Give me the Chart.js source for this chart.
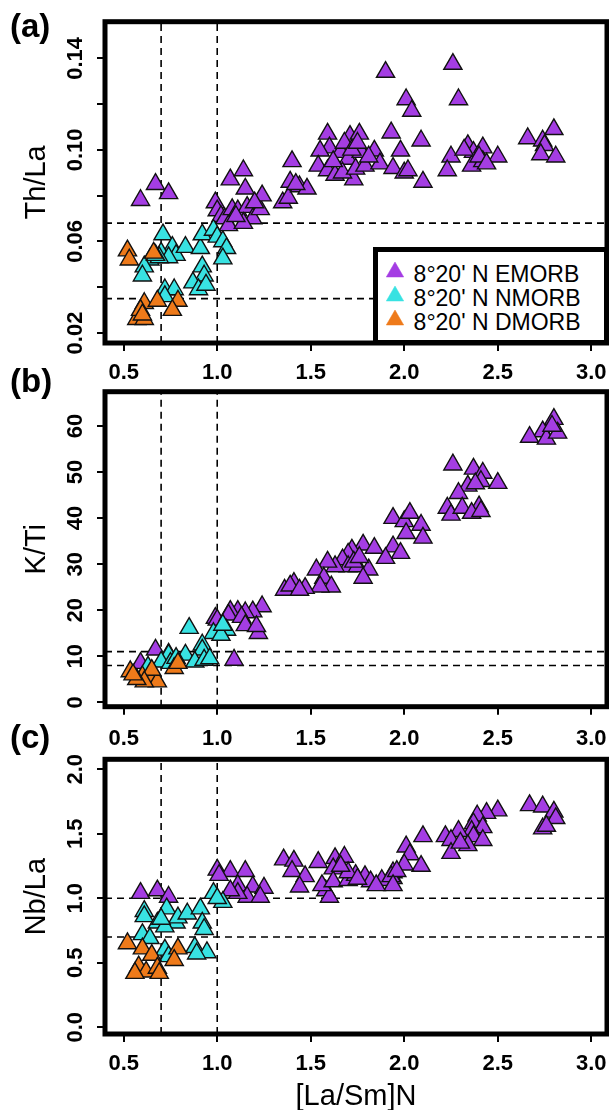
<!DOCTYPE html>
<html><head><meta charset="utf-8">
<script src="https://cdn.jsdelivr.net/npm/chart.js@4.4.1/dist/chart.umd.min.js"></script>
<style>
html,body{margin:0;padding:0;background:#fff;overflow:hidden;width:609px;height:1110px}
#wrap{position:relative;width:609px;height:1110px;overflow:hidden}
canvas{position:absolute;left:0}
.plab{position:absolute;font:bold 33px "Liberation Sans",Arial,sans-serif;line-height:1;color:#000;z-index:6}
#legend{position:absolute;left:373px;top:247px;width:236px;height:98px;box-sizing:border-box;border:5px solid #000;background:#fff;z-index:5;font:23px "Liberation Sans",Arial,sans-serif;color:#000}
#legend svg{position:absolute;left:7px}
#legend span{position:absolute;left:35.6px;line-height:24px;white-space:nowrap}
</style>
</head><body>
<div id="wrap">
  <canvas id="ca" width="609" height="400" style="top:0px"></canvas>
  <canvas id="cb" width="609" height="400" style="top:380px"></canvas>
  <canvas id="cc" width="609" height="380" style="top:745px"></canvas>
  <div class="plab" style="left:10px;top:9px">(a)</div>
  <div class="plab" style="left:10px;top:364px">(b)</div>
  <div class="plab" style="left:10px;top:720px">(c)</div>
  <div id="legend"></div>
</div>
<script>
// ---------- data ----------
const seriesNames = ["8°20' N EMORB", "8°20' N NMORB", "8°20' N DMORB"];
const seriesColors = ['#A43DE3', '#38E2E2', '#EE7A1A'];

const xTicks = [0.5, 1.0, 1.5, 2.0, 2.5, 3.0];
const xTickLabels = ['0.5', '1.0', '1.5', '2.0', '2.5', '3.0'];
const xTitle = '[La/Sm]N';
const refX = [0.7, 1.0];

// Panel (a): Th/La
const aYTicks = [0.02, 0.04, 0.06, 0.08, 0.10, 0.12, 0.14];
const aYTickLabels = ['0.02', '', '0.06', '', '0.10', '', '0.14'];
const aRefY = [0.035, 0.068];
const aEX = [0.59,0.67,0.74,0.99,1.00,1.02,1.04,1.06,1.07,1.08,1.11,1.14,1.15,1.16,1.19,1.14,1.23,1.24,1.10,1.20,1.35,1.38,1.39,1.40,1.44,1.48,1.42,1.59,1.71,1.76,1.60,1.55,1.66,1.70,1.77,1.84,1.93,1.54,1.59,1.63,1.73,1.67,1.74,1.79,1.87,1.94,1.90,1.68,1.72,1.62,1.81,1.75,2.26,2.29,2.01,2.04,2.09,1.98,2.00,2.10,2.02,2.25,2.23,2.34,2.37,2.42,2.36,2.42,2.50,2.32,2.40,2.44,2.66,2.74,2.80,2.75,2.73,2.81];
const aEY = [0.078,0.085,0.081,0.077,0.0735,0.071,0.070,0.067,0.087,0.074,0.0735,0.091,0.083,0.075,0.070,0.068,0.074,0.080,0.071,0.077,0.077,0.079,0.086,0.095,0.084,0.083,0.085,0.107,0.106,0.107,0.101,0.0996,0.099,0.096,0.099,0.0996,0.1075,0.093,0.091,0.089,0.087,0.090,0.0917,0.093,0.094,0.092,0.134,0.103,0.100,0.095,0.097,0.103,0.1375,0.122,0.122,0.117,0.104,0.0996,0.090,0.086,0.091,0.097,0.091,0.102,0.099,0.101,0.093,0.095,0.097,0.100,0.097,0.094,0.105,0.104,0.109,0.102,0.098,0.097];
const aNX = [0.71,0.76,0.70,0.78,0.74,0.64,0.61,0.60,0.83,0.91,0.92,0.98,1.00,1.03,1.05,1.03,0.92,0.93,0.87,0.90,0.94,0.72,0.77,0.72,0.69,0.67];
const aNY = [0.063,0.0575,0.055,0.054,0.053,0.052,0.049,0.045,0.0575,0.057,0.063,0.065,0.062,0.060,0.057,0.0525,0.049,0.045,0.042,0.039,0.041,0.039,0.039,0.036,0.053,0.054];
const aDX = [0.52,0.53,0.66,0.61,0.68,0.79,0.76,0.57,0.61,0.59,0.60];
const aDY = [0.056,0.052,0.055,0.033,0.034,0.034,0.030,0.026,0.026,0.030,0.028];

// Panel (b): K/Ti
const bYTicks = [0, 10, 20, 30, 40, 50, 60];
const bYTickLabels = ['0', '10', '20', '30', '40', '50', '60'];
const bRefY = [8, 11];
const bEX = [2.80,2.74,2.67,2.76,2.82,2.79,2.26,2.37,2.42,2.41,2.34,2.50,2.29,2.23,2.25,2.31,2.40,2.36,2.41,2.38,1.94,2.00,2.03,2.09,2.01,2.10,1.94,1.98,1.78,1.84,1.90,1.72,1.70,1.67,1.70,1.75,1.81,1.78,1.63,1.59,1.53,1.57,1.61,1.55,1.47,1.41,1.36,1.39,1.44,1.73,1.76,1.24,1.19,1.15,1.11,1.07,0.99,1.00,1.06,1.13,1.15,1.22,1.21,1.09,0.67,0.59,0.74];
const bEY = [61.5,58.8,57.6,57.2,58.5,60.0,51.6,50.7,49.8,48.0,47.0,47.6,45.4,42.2,40.7,42.2,42.5,41.1,41.5,47.5,40.0,39.3,41.1,38.5,36.7,35.7,33.8,32.4,34.2,33.5,31.3,33.1,32.2,31.0,29.5,29.5,28.8,27.0,29.5,30.5,28.8,27.0,25.1,25.1,24.8,25.9,24.4,25.3,24.4,30.5,31.5,20.8,19.7,19.5,19.8,19.8,18.3,17.9,19.0,18.5,16.7,15.0,16.5,9.2,11.4,8.5,10.5];
const bNX = [0.85,0.98,1.05,1.02,0.92,0.92,0.83,0.88,0.93,0.74,0.70,0.75,0.63,0.96,0.78,1.03];
const bNY = [16.1,15.0,15.7,14.6,12.5,11.4,10.3,8.8,9.2,10.3,8.8,8.5,7.7,9.5,9.6,16.8];
const bDX = [0.535,0.60,0.66,0.68,0.65,0.77,0.79,0.61,0.57,0.55];
const bDY = [6.7,5.6,5.6,4.5,7.0,7.4,8.5,4.5,5.0,6.0];

// Panel (c): Nb/La
const cYTicks = [0.0, 0.5, 1.0, 1.5, 2.0];
const cYTickLabels = ['0.0', '0.5', '1.0', '1.5', '2.0'];
const cRefY = [0.7, 1.0];
const cEX = [2.67,2.74,2.80,2.81,2.74,2.76,2.50,2.44,2.39,2.37,2.42,2.36,2.37,2.42,2.29,2.22,2.25,2.34,2.25,2.30,2.10,2.01,2.03,2.09,2.00,1.94,1.94,1.355,1.41,1.40,1.47,1.44,1.54,1.63,1.68,1.62,1.58,1.60,1.56,1.62,1.70,1.74,1.79,1.82,1.88,1.93,1.96,1.94,1.70,1.66,1.75,1.85,1.00,1.07,1.15,1.11,1.19,1.25,1.16,1.23,1.11,1.07,1.01,0.59,0.68,0.74];
const cEY = [1.72,1.71,1.67,1.62,1.54,1.56,1.68,1.66,1.64,1.58,1.55,1.52,1.48,1.45,1.52,1.48,1.45,1.41,1.35,1.43,1.48,1.40,1.34,1.25,1.26,1.155,1.20,1.30,1.29,1.21,1.17,1.09,1.28,1.31,1.32,1.23,1.06,1.01,1.10,1.13,1.14,1.18,1.17,1.13,1.14,1.17,1.21,1.10,1.20,1.25,1.15,1.10,1.22,1.21,1.21,1.10,1.09,1.08,1.01,1.01,1.04,1.06,1.18,1.04,1.06,1.01];
const cNX = [0.61,0.61,0.73,0.68,0.78,0.79,0.84,0.91,0.92,0.93,0.72,0.98,1.03,1.00,0.60,0.64,0.72,0.74,0.88,0.945,0.89,0.70];
const cNY = [0.90,0.86,0.92,0.81,0.81,0.85,0.88,0.92,0.81,0.76,0.78,1.04,0.97,1.00,0.72,0.69,0.60,0.55,0.62,0.58,0.57,0.84];
const cDX = [0.52,0.60,0.65,0.79,0.77,0.58,0.62,0.68,0.69,0.56];
const cDY = [0.65,0.61,0.56,0.61,0.52,0.47,0.43,0.46,0.42,0.42];

// ---------- layout / style ----------
const FONT = '"Liberation Sans", Arial, Helvetica, sans-serif';
const X_MIN = 0.4, X_MAX = 3.084;

const framePlugin = {
  id: 'frame',
  afterDraw(chart) {
    const {ctx, chartArea: a} = chart;
    ctx.save();
    ctx.strokeStyle = '#000';
    ctx.lineWidth = 5;
    ctx.strokeRect(a.left, a.top, a.right - a.left, a.bottom - a.top);
    ctx.restore();
  }
};

function pts(xs, ys) { return xs.map((x, i) => ({x: x, y: ys[i]})); }

function makePanel(id, p) {
  const groups = [[p.ex, p.ey], [p.nx, p.ny], [p.dx, p.dy]];
  const datasets = groups.map((g, i) => ({
    label: seriesNames[i],
    data: pts(g[0], g[1]),
    pointStyle: 'triangle',
    pointRadius: 10.5,
    pointHoverRadius: 10.5,
    pointBackgroundColor: seriesColors[i],
    pointBorderColor: '#111',
    pointBorderWidth: 1.4,
    showLine: false,
    order: 3 - i
  }));
  const dash = {borderColor: '#000', borderWidth: 1.6, borderDash: [7, 5], pointRadius: 0, showLine: true, fill: false, order: 10};
  refX.forEach(v => datasets.push(Object.assign({label: 'vx', data: [{x: v, y: p.ymin}, {x: v, y: p.ymax}]}, dash)));
  p.refY.forEach(v => datasets.push(Object.assign({label: 'hy', data: [{x: X_MIN, y: v}, {x: X_MAX, y: v}]}, dash)));

  return new Chart(document.getElementById(id), {
    type: 'scatter',
    data: {datasets: datasets},
    plugins: [framePlugin],
    options: {
      responsive: false,
      animation: false,
      devicePixelRatio: 1,
      events: [],
      layout: {autoPadding: false, padding: {left: 0, right: 2, top: p.padTop, bottom: 0}},
      plugins: {legend: {display: false}, tooltip: {enabled: false}, title: {display: false}},
      scales: {
        x: {
          type: 'linear', min: X_MIN, max: X_MAX,
          afterBuildTicks: s => { s.ticks = xTicks.map(v => ({value: v})); },
          afterFit: s => { s.height = p.xH; s.paddingLeft = 0; s.paddingRight = 0; },
          grid: {display: true, drawOnChartArea: false, drawTicks: true, tickLength: 8, color: '#000', lineWidth: 2},
          border: {display: false},
          ticks: {
            autoSkip: false, maxRotation: 0, minRotation: 0, padding: p.xPad, color: '#000',
            font: {family: FONT, size: 22, weight: 'bold'},
            callback: (v, i) => xTickLabels[i]
          },
          title: p.xTitle ? {display: true, text: xTitle, color: '#000', font: {family: FONT, size: 29}, padding: {top: 0, bottom: p.xTitlePad}} : {display: false}
        },
        y: {
          type: 'linear', min: p.ymin, max: p.ymax,
          afterBuildTicks: s => { s.ticks = p.yTicks.map(v => ({value: v})); },
          afterFit: s => { s.width = 105; s.paddingTop = 0; s.paddingBottom = 0; },
          grid: {display: true, drawOnChartArea: false, drawTicks: true, tickLength: 8, color: '#000', lineWidth: 2},
          border: {display: false},
          ticks: {
            autoSkip: false, minRotation: 90, maxRotation: 90, crossAlign: 'center', padding: p.yPad, color: '#000',
            font: {family: FONT, size: 22, weight: 'bold'},
            callback: (v, i) => p.yLabels[i]
          },
          title: {display: true, text: p.yTitle, color: '#000', font: {family: FONT, size: 29}, padding: {top: 19.6, bottom: 0}}
        }
      }
    }
  });
}

makePanel('ca', {ex: aEX, ey: aEY, nx: aNX, ny: aNY, dx: aDX, dy: aDY, refY: aRefY,
  ymin: 0.01563, ymax: 0.156, yTicks: aYTicks, yLabels: aYTickLabels, yTitle: 'Th/La',
  padTop: 21.7, xH: 57, xPad: 8.8, yPad: 0});
makePanel('cb', {ex: bEX, ey: bEY, nx: bNX, ny: bNY, dx: bDX, dy: bDY, refY: bRefY,
  ymin: -0.955, ymax: 67.45, yTicks: bYTicks, yLabels: bYTickLabels, yTitle: 'K/Ti',
  padTop: 11.7, xH: 73.3, xPad: 10.8, yPad: 8.8});
makePanel('cc', {ex: cEX, ey: cEY, nx: cNX, ny: cNY, dx: cDX, dy: cDY, refY: cRefY,
  ymin: -0.052, ymax: 2.0775, yTicks: cYTicks, yLabels: cYTickLabels, yTitle: 'Nb/La',
  padTop: 14.3, xH: 91, xPad: 8.3, yPad: 5.7, xTitle: true, xTitlePad: 10.6});

// ---------- legend (HTML) ----------
const legendRowsY = [10.2, 34.2, 57.9];
const lg = document.getElementById('legend');
seriesNames.forEach((name, i) => {
  const svgNS = 'http://www.w3.org/2000/svg';
  const svg = document.createElementNS(svgNS, 'svg');
  svg.setAttribute('width', '20'); svg.setAttribute('height', '18');
  svg.style.top = (legendRowsY[i] - 1) + 'px';
  const poly = document.createElementNS(svgNS, 'polygon');
  poly.setAttribute('points', '10,1 1.3,16 18.7,16');
  poly.setAttribute('fill', seriesColors[i]);
  poly.setAttribute('stroke', seriesColors[i]);
  poly.setAttribute('stroke-width', '0.5');
  svg.appendChild(poly);
  lg.appendChild(svg);
  const sp = document.createElement('span');
  sp.textContent = name;
  sp.style.top = legendRowsY[i] + 'px';
  lg.appendChild(sp);
});
</script>
</body></html>
